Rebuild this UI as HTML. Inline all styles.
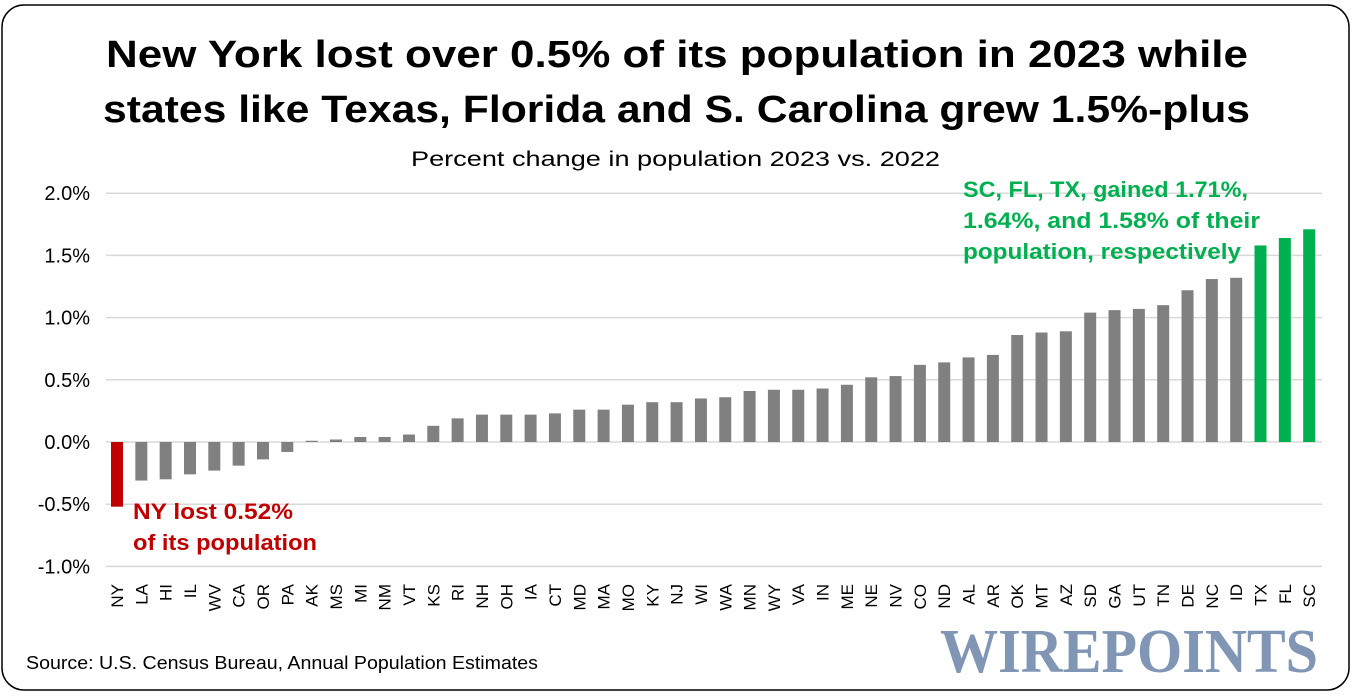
<!DOCTYPE html>
<html><head><meta charset="utf-8"><style>
body{margin:0;background:#fff;}
svg{display:block;font-family:"Liberation Sans",sans-serif;}
</style></head><body>
<svg width="1353" height="696" viewBox="0 0 1353 696">
<rect x="2" y="5" width="1347" height="685" rx="22" fill="#fff" stroke="#000" stroke-width="1.5"/>
<text x="106" y="67" font-size="38" font-weight="bold" fill="#000" textLength="1142" lengthAdjust="spacingAndGlyphs">New York lost over 0.5% of its population in 2023 while</text>
<text x="103" y="122" font-size="38" font-weight="bold" fill="#000" textLength="1147" lengthAdjust="spacingAndGlyphs">states like Texas, Florida and S. Carolina grew 1.5%-plus</text>
<text x="411" y="166" font-size="21" fill="#000" textLength="529" lengthAdjust="spacingAndGlyphs">Percent change in population 2023 vs. 2022</text>
<g id="grid"></g><g id="bars"></g><g id="xlabels"></g>
<text x="133" y="519" font-size="22" font-weight="bold" fill="#c00000" textLength="160" lengthAdjust="spacingAndGlyphs">NY lost 0.52%</text>
<text x="133" y="550" font-size="22" font-weight="bold" fill="#c00000" textLength="184" lengthAdjust="spacingAndGlyphs">of its population</text>
<text x="963" y="197" font-size="22" font-weight="bold" fill="#00b050" textLength="285" lengthAdjust="spacingAndGlyphs">SC, FL, TX, gained 1.71%,</text>
<text x="963" y="228" font-size="22" font-weight="bold" fill="#00b050" textLength="297" lengthAdjust="spacingAndGlyphs">1.64%, and 1.58% of their</text>
<text x="963" y="259" font-size="22" font-weight="bold" fill="#00b050" textLength="278" lengthAdjust="spacingAndGlyphs">population, respectively</text>
<text x="26" y="669" font-size="18" fill="#000" textLength="512" lengthAdjust="spacingAndGlyphs">Source: U.S. Census Bureau, Annual Population Estimates</text>
<text x="1318" y="672" text-anchor="end" font-family="Liberation Serif,serif" font-size="62" font-weight="bold" fill="#8096b4" textLength="378" lengthAdjust="spacingAndGlyphs">WIREPOINTS</text>
</svg>
<script>
const states=["NY","LA","HI","IL","WV","CA","OR","PA","AK","MS","MI","NM","VT","KS","RI","NH","OH","IA","CT","MD","MA","MO","KY","NJ","WI","WA","MN","WY","VA","IN","ME","NE","NV","CO","ND","AL","AR","OK","MT","AZ","SD","GA","UT","TN","DE","NC","ID","TX","FL","SC"];
const values=[-0.52,-0.31,-0.30,-0.26,-0.23,-0.19,-0.14,-0.08,0.01,0.02,0.04,0.04,0.06,0.13,0.19,0.22,0.22,0.22,0.23,0.26,0.26,0.30,0.32,0.32,0.35,0.36,0.41,0.42,0.42,0.43,0.46,0.52,0.53,0.62,0.64,0.68,0.70,0.86,0.88,0.89,1.04,1.06,1.07,1.10,1.22,1.31,1.32,1.58,1.64,1.71];
const ticks=[2.0,1.5,1.0,0.5,0.0,-0.5,-1.0];
const tickLabels=["2.0%","1.5%","1.0%","0.5%","0.0%","-0.5%","-1.0%"];
const NS="http://www.w3.org/2000/svg";
const y=v=>442-v*124.4;
const x=i=>117+i*24.33;
function mk(t,a,p){const e=document.createElementNS(NS,t);for(const k in a)e.setAttribute(k,a[k]);p.appendChild(e);return e;}
const grid=document.getElementById('grid');
ticks.forEach((t,i)=>{
 const l=mk('line',{x1:106,x2:1322,y1:y(t),y2:y(t),stroke:'#d9d9d9','stroke-width':1.5},grid);
 
 
 const tx=mk('text',{x:90,y:y(t)+7,'text-anchor':'end','font-size':20,fill:'#000'},grid);
 tx.textContent=tickLabels[i];
 
 
});
const bars=document.getElementById('bars'),xl=document.getElementById('xlabels');
states.forEach((s,i)=>{
 const v=values[i];
 const col=s==='NY'?'#c00000':(i>=47?'#00b050':'#808080');
 const top=Math.min(y(v),y(0));
 const r=mk('rect',{x:x(i)-6,y:top,width:12,height:Math.max(Math.abs(y(v)-y(0)),1),fill:col},bars);
 
 
 const t=mk('text',{x:0,y:0,'text-anchor':'end','font-size':17,fill:'#000',transform:`translate(${x(i)+6},584) rotate(-90)`},xl);
 t.textContent=s;
 
 
});
</script>
</body></html>
